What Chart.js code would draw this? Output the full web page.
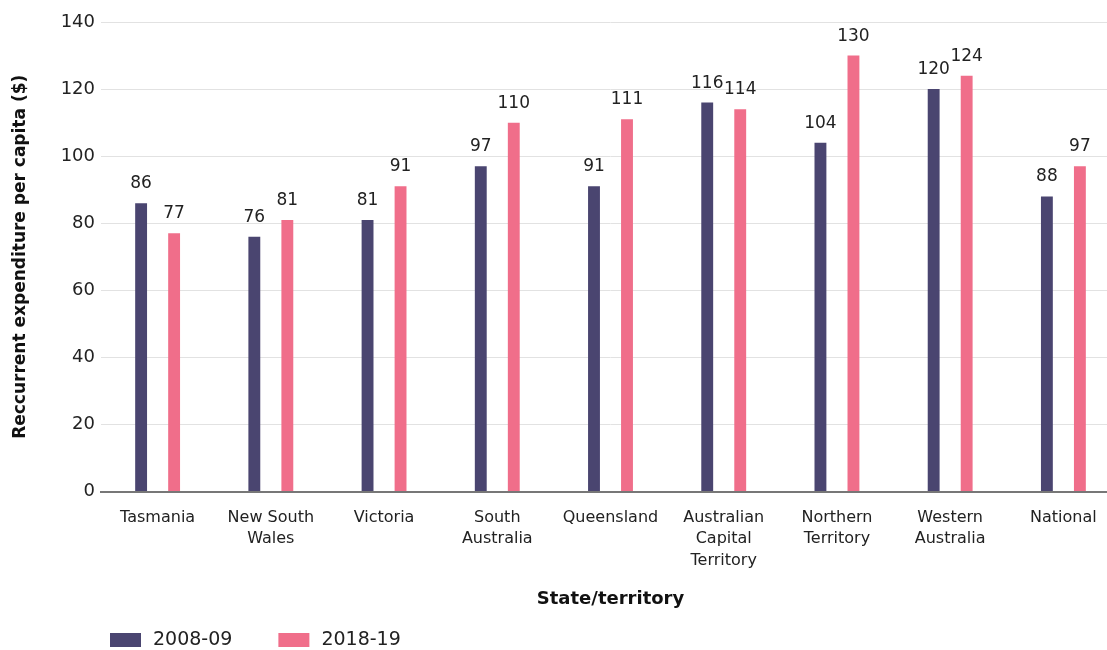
<!DOCTYPE html>
<html>
<head>
<meta charset="utf-8">
<script src="https://cdn.jsdelivr.net/npm/chart.js@4/dist/chart.umd.min.js"></script>
<style>
  html, body { margin: 0; padding: 0; background: #fff; overflow: hidden; }
  #wrap { position: absolute; left: 0; top: 0; width: 1124px; height: 650px; }
</style>
</head>
<body>
<div id="wrap"><canvas id="myChart"></canvas></div>
<script>
// datos del grafico
const categories = [['Tasmania'], ['New South', 'Wales'], ['Victoria'], ['South', 'Australia'], ['Queensland'],
  ['Australian', 'Capital', 'Territory'], ['Northern', 'Territory'], ['Western', 'Australia'], ['National']];
const seriesNames = ['2008-09', '2018-19'];
const values2008 = [86, 76, 81, 97, 91, 116, 104, 120, 88];
const values2018 = [77, 81, 91, 110, 111, 114, 130, 124, 97];
const yTicks = [0, 20, 40, 60, 80, 100, 120, 140];

const FONT = 'DejaVu Sans, sans-serif';
const colors = ['#4a4570', '#f06e8a'];

// etiquetas encima de las barras
const barLabels = {
  id: 'barLabels',
  afterDatasetsDraw(chart) {
    const ctx = chart.ctx;
    ctx.save();
    ctx.font = '17px ' + FONT;
    ctx.fillStyle = '#222';
    ctx.textAlign = 'center';
    ctx.textBaseline = 'alphabetic';
    chart.data.datasets.forEach((ds, i) => {
      chart.getDatasetMeta(i).data.forEach((bar, j) => {
        ctx.fillText(ds.data[j], bar.x, bar.y - 15);
      });
    });
    ctx.restore();
  }
};

// leyenda abajo a la izquierda
const bottomLegend = {
  id: 'bottomLegend',
  afterDraw(chart) {
    const ctx = chart.ctx;
    ctx.save();
    ctx.font = '19px ' + FONT;
    ctx.textBaseline = 'middle';
    let x = chart.chartArea.left + 9;
    const y = 640;
    chart.data.datasets.forEach(ds => {
      ctx.fillStyle = ds.backgroundColor;
      ctx.fillRect(x, y - 7, 31, 14);
      ctx.fillStyle = '#222';
      ctx.fillText(ds.label, x + 43, y);
      x += 43 + ctx.measureText(ds.label).width + 46;
    });
    ctx.restore();
  }
};

const ctx = document.getElementById('myChart').getContext('2d');
const myChart = new Chart(ctx, {
  type: 'bar',
  data: {
    labels: categories,
    datasets: [
      { label: seriesNames[0], data: values2008, backgroundColor: colors[0] },
      { label: seriesNames[1], data: values2018, backgroundColor: colors[1] }
    ]
  },
  options: {
    responsive: true,
    maintainAspectRatio: false,
    animation: false,
    layout: { padding: { top: 22, right: 4, bottom: 40, left: 0 } },
    datasets: { bar: { categoryPercentage: 0.583, barPercentage: 0.36 } },
    scales: {
      x: {
        grid: { display: false },
        border: { color: '#777', width: 2 },
        ticks: { color: '#222', font: { family: FONT, size: 16, lineHeight: 1.35 }, padding: 7, maxRotation: 0, autoSkip: false },
        title: { display: true, text: 'State/territory', color: '#111', font: { family: FONT, size: 18, weight: 'bold' }, padding: { top: 10, bottom: 0 } }
      },
      y: {
        min: 0,
        max: 140,
        afterBuildTicks(scale) { scale.ticks = yTicks.map(v => ({ value: v })); },
        afterFit(scale) { scale.width = 101; },
        grid: { color: '#e2e2e2', drawTicks: false },
        border: { display: false },
        ticks: { color: '#222', font: { family: FONT, size: 18 }, padding: 6 },
        title: { display: true, text: 'Reccurrent expenditure per capita ($)', color: '#111', font: { family: FONT, size: 17, weight: 'bold' }, padding: { top: 10, bottom: 0 } }
      }
    },
    plugins: {
      legend: { display: false },
      tooltip: { enabled: false }
    }
  },
  plugins: [barLabels, bottomLegend]
});
</script>
</body>
</html>
